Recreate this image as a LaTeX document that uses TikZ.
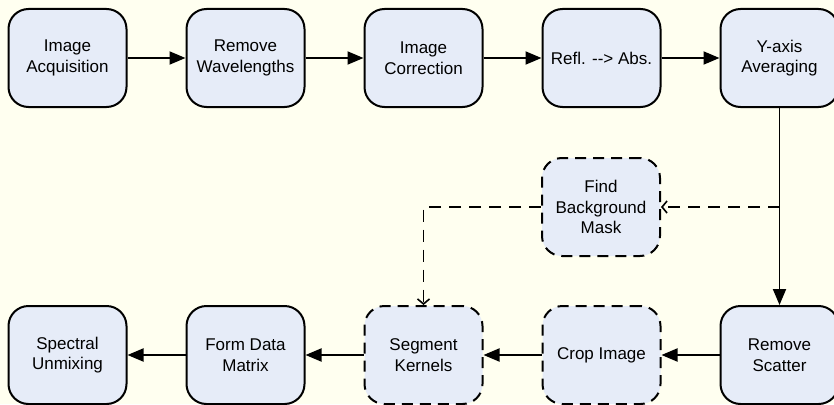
\documentclass[tikz,border=0pt]{standalone}
\usepackage{fontspec}
\setmainfont{Liberation Sans}
\usepackage{xcolor}
\usetikzlibrary{arrows.meta}
\definecolor{bgcol}{RGB}{255,255,240}
\definecolor{boxcol}{RGB}{230,236,248}
\tikzset{
  stepbox/.style={draw=black,fill=boxcol,line width=2pt,rounded corners=20pt,
    minimum width=118pt,minimum height=98pt,align=center,inner sep=2pt,
    font=\fontsize{17}{20.7}\selectfont},
  optbox/.style={stepbox,dash pattern=on 11pt off 7pt},
  flow/.style={line width=1.9pt,-{Triangle[length=16pt,width=13pt]}},
  optflow/.style={line width=1.9pt,dash pattern=on 12pt off 8pt,-{Straight Barb[length=5pt,width=12pt,line width=1.6pt]}}
}
\begin{document}
\begin{tikzpicture}[x=1pt,y=-1pt]
\useasboundingbox(0,0)rectangle(834,404);
\fill[bgcol](0,0)rectangle(834,404);
% top row
\node[stepbox](acq)at(67.5,58){Image\\Acquisition};
\node[stepbox](remwl)at(245.5,58){Remove\\Wavelengths};
\node[stepbox](corr)at(423.5,58){Image\\Correction};
\node[stepbox](refl)at(601.5,58){Refl. {-}{-}> Abs.};
\node[stepbox](yavg)at(779.5,58){Y-axis\\Averaging};
% optional step
\node[optbox](mask)at(601,207){Find\\Background\\Mask};
% bottom row
\node[stepbox](scat)at(779.5,355){Remove\\Scatter};
\node[optbox](crop)at(601.5,355){Crop Image};
\node[optbox](seg)at(423.5,355){Segment\\Kernels};
\node[stepbox](form)at(245.5,355){Form Data\\Matrix};
\node[stepbox](unmix)at(67.5,355){Spectral\\Unmixing};
\draw[flow](acq)--(remwl);\draw[flow](remwl)--(corr);
\draw[flow](corr)--(refl);\draw[flow](refl)--(yavg);
\draw[flow](yavg)--(scat);
\draw[flow](scat)--(crop);\draw[flow](crop)--(seg);
\draw[flow](seg)--(form);\draw[flow](form)--(unmix);
\coordinate(split)at(yavg.south|-mask.east);
\draw[optflow](split)--(mask.east);
\draw[optflow](mask.west)-|(seg.north);
\end{tikzpicture}
\end{document}
